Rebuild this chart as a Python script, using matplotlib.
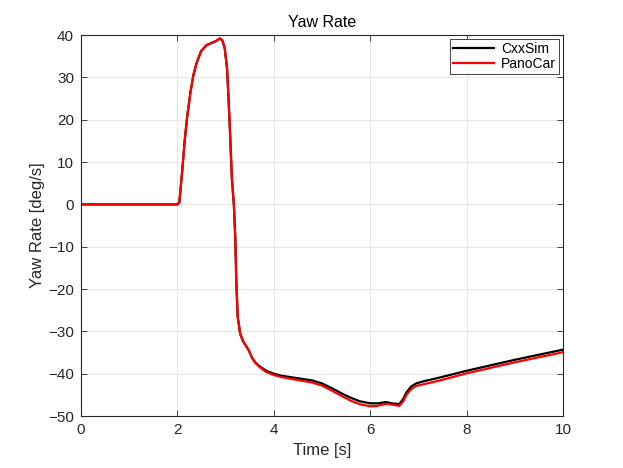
import matplotlib
matplotlib.use("Agg")
import matplotlib.pyplot as plt

time_s = [0.0, 2.0, 2.04, 2.1, 2.15, 2.2, 2.27, 2.33, 2.4, 2.49, 2.6, 2.7, 2.8, 2.88,
          2.93, 2.98, 3.03, 3.08, 3.13, 3.17, 3.2, 3.22, 3.25, 3.3, 3.36, 3.42, 3.48,
          3.55, 3.62, 3.7, 3.84, 4.0, 4.12, 4.4, 4.8, 5.0, 5.2, 5.43, 5.6, 5.78, 6.0,
          6.15, 6.33, 6.45, 6.6, 6.68, 6.75, 6.85, 6.95, 7.1, 7.44, 8.0, 9.0, 10.0]

cxxsim = [0.0, 0.0, 0.5, 8.0, 15.0, 20.5, 26.5, 30.5, 33.5, 36.2, 37.6, 38.1, 38.6, 39.2,
          38.8, 37.0, 32.0, 20.0, 6.0, 0.0, -8.0, -18.0, -26.5, -30.5, -32.3, -33.4, -34.5,
          -36.3, -37.4, -38.2, -39.3, -40.0, -40.4, -40.9, -41.6, -42.3, -43.4, -44.8, -45.7,
          -46.5, -47.0, -47.0, -46.7, -47.0, -47.2, -46.0, -44.4, -43.0, -42.3, -41.8, -40.9,
          -39.3, -36.7, -34.3]

panocar = [0.0, 0.0, 0.5, 8.0, 15.0, 20.5, 26.5, 30.5, 33.5, 36.2, 37.6, 38.1, 38.6, 39.2,
           38.8, 37.0, 32.0, 20.0, 6.0, 0.0, -8.0, -18.0, -26.5, -30.5, -32.3, -33.4, -34.5,
           -36.3, -37.5, -38.4, -39.6, -40.3, -40.7, -41.3, -42.1, -42.8, -44.0, -45.4, -46.4,
           -47.2, -47.7, -47.6, -47.1, -47.3, -47.6, -46.6, -45.0, -43.6, -42.9, -42.5, -41.6,
           -39.9, -37.3, -34.9]

x_ticks = [0, 2, 4, 6, 8, 10]
y_ticks = [-50, -40, -30, -20, -10, 0, 10, 20, 30, 40]

plt.rcParams['font.family'] = ['Liberation Sans', 'DejaVu Sans']
txt = '#262626'

fig = plt.figure(figsize=(6.23, 4.68), dpi=100)
ax = fig.add_axes([0.130, 0.111, 0.774, 0.814])

ax.plot(time_s, cxxsim, color='black', lw=1.6, label='CxxSim')
ax.plot(time_s, panocar, color='#ff0000', lw=1.6, label='PanoCar')

ax.set_xlim(0, 10)
ax.set_ylim(-50, 40)
ax.set_xticks(x_ticks)
ax.set_yticks(y_ticks)
ax.grid(True, color='#e3e3e3', lw=0.6)
ax.set_axisbelow(True)
for s in ax.spines.values():
    s.set_color(txt)
    s.set_linewidth(0.8)
ax.tick_params(direction='in', top=True, right=True, length=4, width=0.6,
               colors=txt, labelsize=11, pad=5)

ax.set_title('Yaw Rate', fontsize=11.5, color='black', pad=6)
ax.set_xlabel('Time [s]', fontsize=12, color=txt, labelpad=4)
ax.set_ylabel('Yaw Rate [deg/s]', fontsize=12, color=txt, labelpad=2)

leg = ax.legend(loc='upper right', fontsize=10, frameon=True, fancybox=False,
                edgecolor=txt, framealpha=1, borderaxespad=0.3, handlelength=3.0,
                handletextpad=0.5, borderpad=0.2, labelspacing=0.05)
leg.get_frame().set_linewidth(0.6)

fig.savefig('out.png', dpi=100)
